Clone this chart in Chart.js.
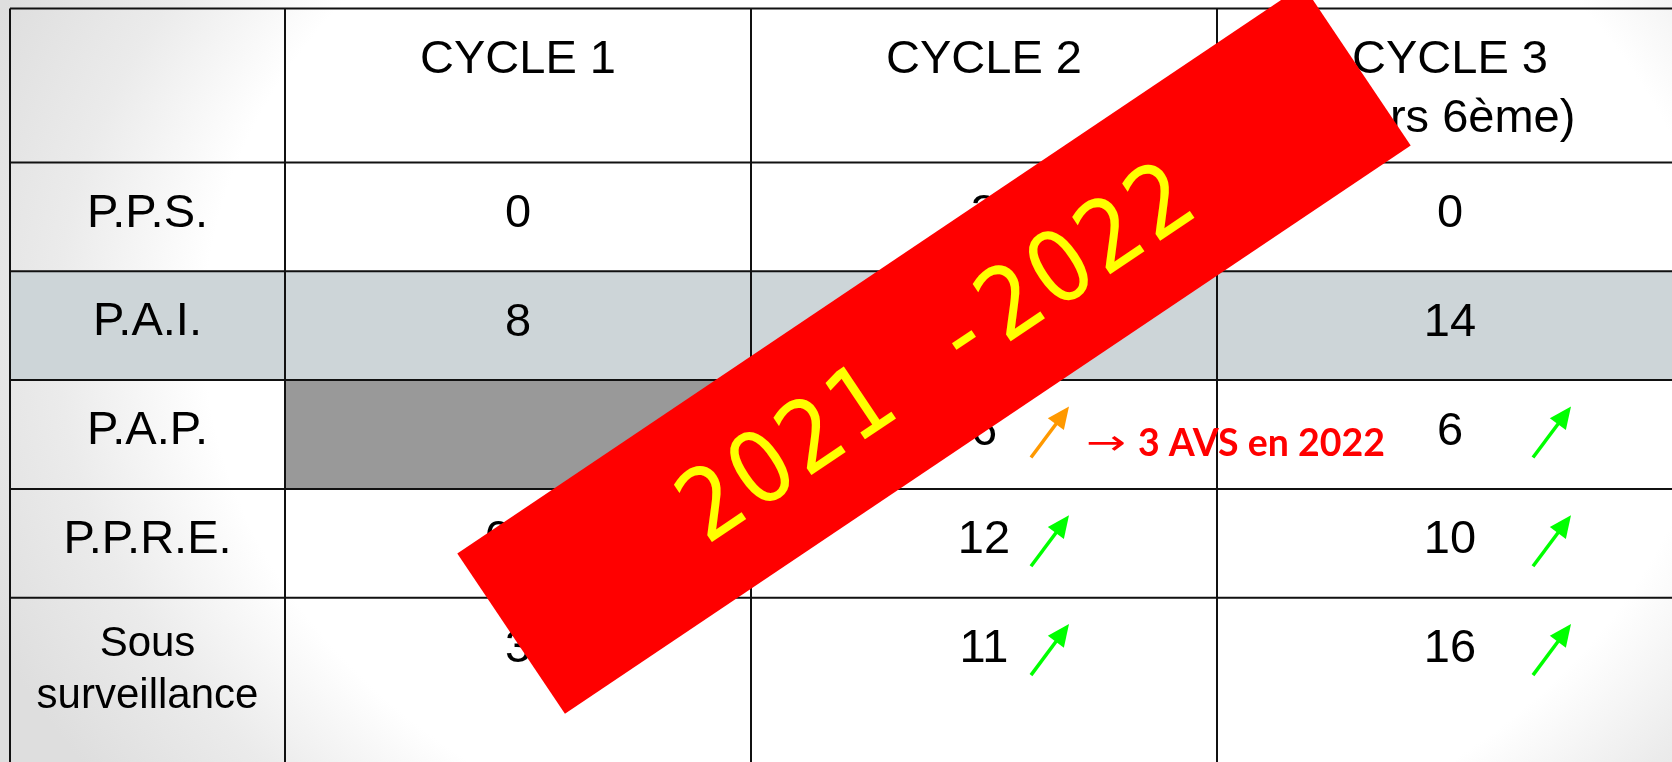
<!DOCTYPE html>
<html>
<head>
<meta charset="utf-8">
<script src="https://cdn.jsdelivr.net/npm/chart.js"></script>
<style>
  html, body { margin: 0; padding: 0; background: #fff; }
  canvas { display: block; }
</style>
</head>
<body>
<canvas id="myChart" width="1672" height="762"></canvas>
<script>
var rowLabels = ["P.P.S.", "P.A.I.", "P.A.P.", "P.P.R.E.", "Sous\nsurveillance"];
var cycles = ["CYCLE 1", "CYCLE 2", "CYCLE 3\n(vers 6ème)"];
var cycle1 = ["0", "8", null, "0,5", "3"];
var cycle2 = ["3", "12", "6", "12", "11"];
var cycle3 = ["0", "14", "6", "10", "16"];
var trend2 = ["", "", "orange", "up", "up"];
var trend3 = ["", "", "up", "up", "up"];
var note = "3 AVS en 2022";
var yearLabel = "2021 -2022";

var values = [cycle1, cycle2, cycle3];
var trends = [null, trend2, trend3];

// column edges / row edges in scale units
var colEdges = [-275 / 466, 0, 1, 2, 3];
var rowEdges = [-154 / 108.8, 0, 1, 2, 3, 4, 6];

function fitText(ctx, txt, x, y, width) {
  var m = ctx.measureText(txt).width;
  ctx.save();
  ctx.translate(x, y);
  ctx.scale(width / m, 1);
  ctx.fillText(txt, 0, 0);
  ctx.restore();
}

function arrow(ctx, x0, y0, x1, y1, color) {
  var dx = x1 - x0, dy = y1 - y0, len = Math.sqrt(dx * dx + dy * dy);
  var ux = dx / len, uy = dy / len, head = 22, half = 10;
  var bx = x1 - ux * head, by = y1 - uy * head;
  ctx.save();
  ctx.strokeStyle = color;
  ctx.fillStyle = color;
  ctx.lineWidth = 3.5;
  ctx.beginPath();
  ctx.moveTo(x0, y0);
  ctx.lineTo(bx + ux * 4, by + uy * 4);
  ctx.stroke();
  ctx.beginPath();
  ctx.moveTo(x1, y1);
  ctx.lineTo(bx - uy * half, by + ux * half);
  ctx.lineTo(bx + uy * half, by - ux * half);
  ctx.closePath();
  ctx.fill();
  ctx.restore();
}

const tablePlugin = {
  id: "table",
  beforeDraw(chart) {
    const ctx = chart.ctx, w = chart.width, h = chart.height;
    ctx.save();
    ctx.translate(960, 330);
    ctx.scale(1, 0.75);
    const g = ctx.createRadialGradient(0, 0, 0, 0, 0, 1050);
    g.addColorStop(0, "#ffffff");
    g.addColorStop(0.72, "#ffffff");
    g.addColorStop(0.86, "#ebebeb");
    g.addColorStop(1, "#dedede");
    ctx.fillStyle = g;
    ctx.fillRect(-w * 2, -h * 3, w * 4, h * 6);
    ctx.restore();
  },
  afterDatasetsDraw(chart) {
    const ctx = chart.ctx;
    const xs = chart.scales.x, ys = chart.scales.y;
    const X = v => xs.getPixelForValue(v), Y = v => ys.getPixelForValue(v);

    // cell fills
    ctx.save();
    ctx.fillStyle = "#cdd5d8";
    ctx.fillRect(X(colEdges[0]), Y(1), X(colEdges[4]) - X(colEdges[0]), Y(2) - Y(1));
    values.forEach((col, c) => {
      col.forEach((v, r) => {
        if (v === null) {
          ctx.fillStyle = "#999999";
          ctx.fillRect(X(c), Y(r), X(c + 1) - X(c), Y(r + 1) - Y(r));
        }
      });
    });

    // grid
    ctx.strokeStyle = "#111";
    ctx.lineWidth = 2;
    ctx.beginPath();
    colEdges.forEach(e => {
      ctx.moveTo(X(e), Y(rowEdges[0]));
      ctx.lineTo(X(e), Y(rowEdges[6]));
    });
    rowEdges.forEach(e => {
      ctx.moveTo(X(colEdges[0]), Y(e));
      ctx.lineTo(X(colEdges[4]), Y(e));
    });
    ctx.stroke();

    // header
    ctx.fillStyle = "#000";
    ctx.textAlign = "center";
    ctx.textBaseline = "alphabetic";
    ctx.font = "47px 'Liberation Sans', Arial, sans-serif";
    cycles.forEach((t, c) => {
      t.split("\n").forEach((line, i) => {
        ctx.fillText(line, X(c + 0.5), Y(rowEdges[0]) + 64 + i * 59);
      });
    });

    // row labels
    rowLabels.forEach((t, r) => {
      const lines = t.split("\n");
      const cx = (X(colEdges[0]) + X(colEdges[1])) / 2;
      if (lines.length === 1) {
        ctx.font = "47px 'Liberation Sans', Arial, sans-serif";
        ctx.fillText(t, cx, Y(r) + 64);
      } else {
        ctx.font = "42px 'Liberation Sans', Arial, sans-serif";
        lines.forEach((line, i) => ctx.fillText(line, cx, Y(r) + 58.5 + i * 52));
      }
    });

    // values and trend arrows, placed at the dataset points
    ctx.font = "47px 'Liberation Sans', Arial, sans-serif";
    chart.data.datasets.forEach((ds, c) => {
      const meta = chart.getDatasetMeta(c);
      meta.data.forEach((pt, r) => {
        const v = ds.data[r].v;
        if (v !== null) {
          ctx.fillStyle = "#000";
          ctx.fillText(v, pt.x, pt.y + 10);
        }
        const t = trends[c] ? trends[c][r] : "";
        if (t) {
          const ox = c === 1 ? 47 : 83;
          const col = t === "orange" ? "#ff9900" : "#00ff00";
          arrow(ctx, pt.x + ox, pt.y + 23, pt.x + ox + 38, pt.y - 28, col);
          if (t === "orange") {
            ctx.fillStyle = "#ff0000";
            ctx.textAlign = "left";
            ctx.font = "34px 'DejaVu Sans', sans-serif";
            fitText(ctx, "\u2192", pt.x + 102, pt.y + 19, 40);
            ctx.font = "bold 39px Lato, sans-serif";
            fitText(ctx, note, pt.x + 154, pt.y + 21, 247);
            ctx.textAlign = "center";
            ctx.font = "47px 'Liberation Sans', Arial, sans-serif";
          }
        }
      });
    });
    ctx.restore();
  },
  afterDraw(chart) {
    const ctx = chart.ctx;
    const xs = chart.scales.x, ys = chart.scales.y;
    // red "stamp" banner across the table
    const cx = xs.getPixelForValue((934 - 285) / 466);
    const cy = ys.getPixelForValue((349.5 - 162.5) / 108.8);
    ctx.save();
    ctx.translate(cx, cy);
    ctx.rotate(-33.9 * Math.PI / 180);
    ctx.fillStyle = "#ff0000";
    ctx.fillRect(-509.5, -96.5, 1019, 193);
    ctx.fillStyle = "#ffff00";
    ctx.font = "99px 'DejaVu Sans', sans-serif";
    ctx.textAlign = "center";
    ctx.textBaseline = "alphabetic";
    // monospaced look: one 60px cell per character
    const chars = yearLabel.split("");
    chars.forEach((ch, i) => {
      ctx.save();
      ctx.translate(-300 + 30 + i * 60, 36);
      ctx.scale(0.9, 1);
      ctx.fillText(ch, 0, 0);
      ctx.restore();
    });
    ctx.restore();
  }
};

const datasets = values.map((col, c) => ({
  label: cycles[c],
  data: col.map((v, r) => ({ x: c + 0.5, y: r + 0.5, v: v })),
  pointRadius: 0,
  showLine: false
}));

new Chart("myChart", {
  type: "scatter",
  data: { datasets: datasets },
  options: {
    responsive: false,
    animation: false,
    events: [],
    layout: { padding: { left: 10, top: 8.5, right: 0, bottom: 0 } },
    scales: {
      x: { type: "linear", display: false, min: -275 / 466, max: -275 / 466 + 1662 / 466 },
      y: { type: "linear", display: false, reverse: true, min: -154 / 108.8, max: -154 / 108.8 + 753.5 / 108.8 }
    },
    plugins: { legend: { display: false }, tooltip: { enabled: false } }
  },
  plugins: [tablePlugin]
});
</script>
</body>
</html>
